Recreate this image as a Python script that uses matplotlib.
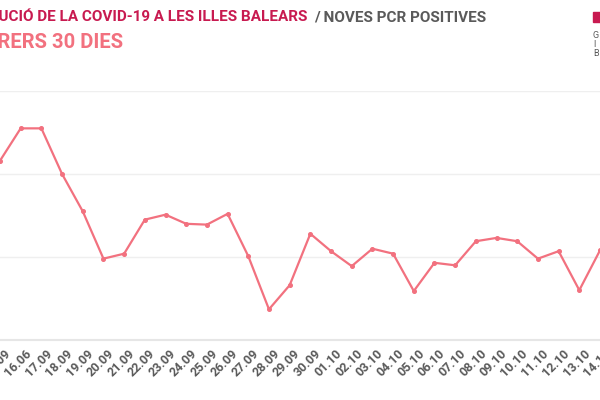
import matplotlib.pyplot as plt
from matplotlib.transforms import ScaledTranslation

plt.rcParams['font.family'] = ['Roboto', 'DejaVu Sans']

dates = ['15.09', '16.06', '17.09', '18.09', '19.09', '20.09', '21.09', '22.09',
         '23.09', '24.09', '25.09', '26.09', '27.09', '28.09', '29.09', '30.09',
         '01.10', '02.10', '03.10', '04.10', '05.10', '06.10', '07.10', '08.10',
         '09.10', '10.10', '11.10', '12.10', '13.10', '14.10']
pcr = [216, 255, 255, 200, 155, 98, 104, 145, 151, 140, 139, 152, 101, 37, 66,
       128, 107, 89, 110, 104, 59, 93, 90, 119, 123, 119, 98, 107, 60, 108]

line_col = '#f2717f'
crimson = '#c81a50'
gray = '#5a5a5a'

fig = plt.figure(figsize=(6, 4), dpi=100)
# chart is cropped on both sides, like the reference
ax = fig.add_axes([0, 0.15, 1, 0.6225])
x = list(range(len(pcr)))
ax.plot(x, pcr, color=line_col, lw=1.6, marker='o', ms=2.6, clip_on=True)
ax.set_xlim(0.189, 28.49)
ax.set_ylim(0, 300)
ax.set_yticks([0, 100, 200, 300])
ax.set_yticklabels([])
ax.tick_params(axis='y', length=0)
ax.grid(axis='y', color='#efefef', lw=1)
ax.set_axisbelow(True)
for s in ['top', 'right', 'left']:
    ax.spines[s].set_visible(False)
ax.spines['bottom'].set_color('#e6e6e6')
ax.spines['bottom'].set_linewidth(1.5)

ax.set_xticks(x)
ax.set_xticklabels(dates, rotation=45, ha='right', rotation_mode='anchor',
                   fontsize=9, fontweight='bold', color=gray)
ax.tick_params(axis='x', length=0, pad=5)
off = ScaledTranslation(0.04, 0, fig.dpi_scale_trans)
for lab in ax.get_xticklabels():
    lab.set_transform(lab.get_transform() + off)

fig.text(0.513, 0.957, 'EVOLUCIÓ DE LA COVID-19 A LES ILLES BALEARS', color=crimson,
         fontsize=11, fontweight='bold', ha='right', va='center')
fig.text(0.523, 0.957, '/ NOVES PCR POSITIVES', color=gray,
         fontsize=11, fontweight='bold', ha='left', va='center')
fig.text(0.205, 0.893, 'DARRERS 30 DIES', color=line_col,
         fontsize=14.5, fontweight='bold', ha='right', va='center')

# logo fragment
fig.patches.append(plt.Rectangle((0.988, 0.945), 0.012, 0.025, color=crimson,
                                 transform=fig.transFigure))
for t, yy in zip(['G', 'I', 'B'], [0.912, 0.888, 0.865]):
    fig.text(0.988, yy, t, color=gray, fontsize=6.5, ha='left', va='center')

plt.savefig('out.png')
